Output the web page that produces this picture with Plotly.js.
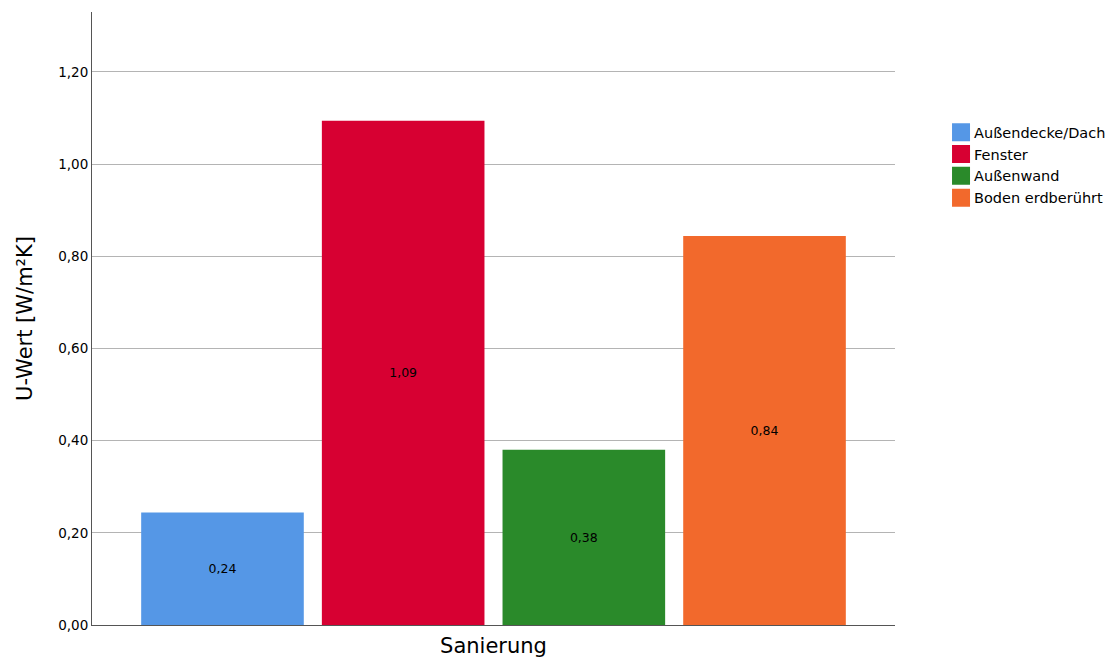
<!DOCTYPE html>
<html>
<head>
<meta charset="utf-8">
<script src="https://cdn.plot.ly/plotly-3.0.1.min.js"></script>
<style>html,body{margin:0;padding:0;background:#fff;}</style>
</head>
<body>
<div id="chart" style="width:1120px;height:659px;"></div>
<script>
const category = ["Sanierung"];
const seriesNames = ["Außendecke/Dach", "Fenster", "Außenwand", "Boden erdberührt"];
const seriesValues = [0.244, 1.094, 0.380, 0.844];
const seriesColors = ["#5597e6", "#d70032", "#2a8a2a", "#f2692c"];
const yTicks = [0, 0.2, 0.4, 0.6, 0.8, 1.0, 1.2];

const FONT = "DejaVu Sans, Arial, sans-serif";

const traces = seriesNames.map((name, i) => ({
  type: "bar",
  name: name,
  x: category,
  y: [seriesValues[i]],
  marker: {color: seriesColors[i], line: {width: 0}},
  texttemplate: "%{y:.2f}",
  textposition: "inside",
  insidetextanchor: "middle",
  textfont: {color: "#000", size: 12.5, family: FONT},
  hoverinfo: "none"
}));

const layout = {
  width: 1120, height: 659,
  margin: {l: 92, r: 225, t: 12, b: 34, autoexpand: false},
  separators: ",.",
  barmode: "group",
  bargap: 0.1,
  bargroupgap: 0.1,
  paper_bgcolor: "#fff",
  plot_bgcolor: "#fff",
  font: {family: FONT, color: "#000"},
  showlegend: true,
  legend: {
    x: 1.0486, xanchor: "left", y: 0.83, yanchor: "top",
    font: {size: 14.5, color: "#000", family: FONT},
    traceorder: "normal",
    itemwidth: 30,
    tracegroupgap: 0
  },
  xaxis: {
    showticklabels: false,
    ticks: "",
    showgrid: false,
    showline: true, linecolor: "#555", linewidth: 1,
    zeroline: false,
    fixedrange: true,
    automargin: false,
    title: {text: "Sanierung", font: {size: 21, color: "#000", family: FONT}, standoff: 13}
  },
  yaxis: {
    range: [0, 1.33],
    tickvals: yTicks,
    tickformat: ".2f",
    ticks: "",
    automargin: false,
    tickfont: {size: 13.5, color: "#000", family: FONT},
    showgrid: true, gridcolor: "#b4b4b4", gridwidth: 1,
    showline: true, linecolor: "#555", linewidth: 1,
    zeroline: false,
    title: {text: "U-Wert [W/m²K]", font: {size: 21, color: "#000", family: FONT}, standoff: 19}
  }
};

Plotly.newPlot("chart", traces, layout, {displayModeBar: false, staticPlot: true}).then(gd => {
  // enlarge legend swatches to match the reference's square keys
  gd.querySelectorAll(".legend .legendpoints path").forEach(p => {
    p.setAttribute("d", "M-2,9H16V-9H-2Z");
  });
});
</script>
</body>
</html>
